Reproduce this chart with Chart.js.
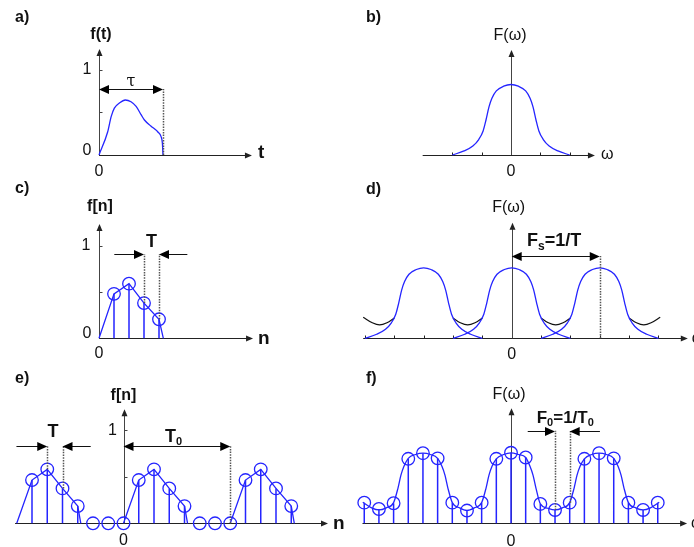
<!DOCTYPE html>
<html lang="en">
<head>
<meta charset="UTF-8" />
<title>Sampling in time and frequency</title>
<script src="https://cdn.jsdelivr.net/npm/chart.js@4.4.1/dist/chart.umd.min.js"></script>
<style>
  body { margin: 0; background: #fff; }
  #page { position: relative; width: 694px; height: 547px; overflow: hidden; }
  #page canvas { position: absolute; left: 0; top: 0; }
</style>
</head>
<body>
<div id="page">
  <canvas id="pa" width="694" height="547"></canvas>
  <canvas id="pb" width="694" height="547"></canvas>
  <canvas id="pc" width="694" height="547"></canvas>
  <canvas id="pd" width="694" height="547"></canvas>
  <canvas id="pe" width="694" height="547"></canvas>
  <canvas id="pf" width="694" height="547"></canvas>
</div>
<script>
const W = 694, H = 547
const BLUE = '#2424ff'
const INK = '#222'
const SANS = '"Liberation Sans", Arial, sans-serif'

// a) continuous pulse f(t), t in units of tau
const pulseT = [0, 0.135, 0.19, 0.24, 0.32, 0.41, 0.5, 0.58, 0.66, 0.71, 0.81, 0.92, 0.97, 0.99, 1.0]
const pulseY = [0, 0.27, 0.45, 0.55, 0.61, 0.645, 0.625, 0.57, 0.47, 0.41, 0.34, 0.27, 0.215, 0.14, 0]

// c) samples f[n]
const sampleN = [1, 2, 3, 4]
const sampleY = [0.48, 0.59, 0.38, 0.205]
const sampleLineN = [0, 1, 2, 3, 4, 4.29]
const sampleLineY = [0, 0.48, 0.59, 0.38, 0.205, 0]

// e) periodic samples, period 7
const periodicN = [-6, -5, -4, -3, -2, -1, 0, 1, 2, 3, 4, 5, 6, 7, 8, 9, 10, 11]
const periodicY = [0.465, 0.58, 0.375, 0.185, 0, 0, 0, 0.465, 0.58, 0.375, 0.185, 0, 0, 0, 0.465, 0.58, 0.375, 0.185]
const periodicLineN = [-7, -6, -5, -4, -3, -2.8, -1.4, 0, 1, 2, 3, 4, 4.2, 5.6, 7, 8, 9, 10, 11, 11.2]
const periodicLineY = [0, 0.465, 0.58, 0.375, 0.185, 0, null, 0, 0.465, 0.58, 0.375, 0.185, 0, null, 0, 0.465, 0.58, 0.375, 0.185, 0]

// b) spectrum F(w)
const specW = [-2, -1.6, -1.3, -1.1, -0.95, -0.85, -0.75, -0.65, -0.5, -0.25, 0, 0.25, 0.5, 0.65, 0.75, 0.85, 0.95, 1.1, 1.3, 1.6, 2]
const specY = [0, 0.047, 0.105, 0.18, 0.28, 0.41, 0.56, 0.66, 0.745, 0.8, 0.82, 0.8, 0.745, 0.66, 0.56, 0.41, 0.28, 0.18, 0.105, 0.047, 0]

// d) spectrum copies every Fs and their overlapping sum (black)
const copyCenters = [-3, 0, 3]
const aliasW = [-5.06, -4.75, -4.5, -4.25, -4, -3, -2, -1.75, -1.5, -1.25, -1, 0, 1, 1.25, 1.5, 1.75, 2, 3, 4, 4.25, 4.5, 4.75, 5.06]
const aliasY = [0.245, 0.18, 0.155, 0.18, 0.235, null, 0.235, 0.18, 0.155, 0.18, 0.235, null, 0.235, 0.18, 0.155, 0.18, 0.235, null, 0.235, 0.18, 0.155, 0.18, 0.245]

// f) sampled periodic spectrum
const combW = [-5, -4.5, -4, -3.5, -3, -2.5, -2, -1.5, -1, -0.5, 0, 0.5, 1, 1.5, 2, 2.5, 3, 3.5, 4, 4.5, 5]
const combY = [0.24, 0.166, 0.233, 0.75, 0.815, 0.755, 0.24, 0.148, 0.24, 0.75, 0.82, 0.765, 0.225, 0.155, 0.24, 0.75, 0.815, 0.755, 0.24, 0.155, 0.24]
const combLineW = [-5.05, -4.75, -4.5, -4.25, -4, -3.85, -3.75, -3.65, -3.5, -3.25, -3, -2.75, -2.5, -2.35, -2.25, -2.15, -2, -1.75, -1.5, -1.25, -1, -0.85, -0.75, -0.65, -0.5, -0.25, 0, 0.25, 0.5, 0.65, 0.75, 0.85, 1, 1.25, 1.5, 1.75, 2, 2.15, 2.25, 2.35, 2.5, 2.75, 3, 3.25, 3.5, 3.65, 3.75, 3.85, 4, 4.25, 4.5, 4.75, 5.05]
const combLineY = [0.245, 0.18, 0.155, 0.18, 0.24, 0.41, 0.56, 0.66, 0.755, 0.8, 0.815, 0.8, 0.755, 0.66, 0.56, 0.41, 0.24, 0.18, 0.15, 0.18, 0.24, 0.41, 0.56, 0.66, 0.75, 0.8, 0.82, 0.8, 0.765, 0.66, 0.56, 0.41, 0.225, 0.175, 0.155, 0.18, 0.24, 0.41, 0.56, 0.66, 0.75, 0.8, 0.815, 0.8, 0.755, 0.66, 0.56, 0.41, 0.24, 0.18, 0.155, 0.18, 0.245]

function xy(xs, ys) { return xs.map((x, i) => ({ x, y: ys[i] })) }

function stems(xs, ys) {
  const pts = []
  xs.forEach((x, i) => {
    if (ys[i] > 0) pts.push({ x, y: 0 }, { x, y: ys[i] }, { x, y: null })
  })
  return { data: pts, borderColor: BLUE, borderWidth: 1.5, pointRadius: 0, tension: 0 }
}

function curve(data, extra) {
  return Object.assign({ data, borderColor: BLUE, borderWidth: 1.3, pointRadius: 0, cubicInterpolationMode: 'monotone' }, extra)
}

function circles(data) {
  return { data, showLine: false, pointRadius: 6.3, pointBorderWidth: 1.3, pointBorderColor: BLUE, pointBackgroundColor: 'rgba(0,0,0,0)', borderColor: BLUE }
}

function kit(chart) {
  const ctx = chart.ctx
  const px = v => chart.scales.x.getPixelForValue(v)
  const py = v => chart.scales.y.getPixelForValue(v)
  const crisp = v => Math.round(v) + 0.5
  const seg = (x0, y0, x1, y1) => { ctx.beginPath(); ctx.moveTo(x0, y0); ctx.lineTo(x1, y1); ctx.stroke() }
  const head = (x, y, dx, dy, len, half) => {
    const bx = x - dx * len, by = y - dy * len
    ctx.beginPath()
    ctx.moveTo(x, y)
    ctx.lineTo(bx - dy * half, by + dx * half)
    ctx.lineTo(bx + dy * half, by - dx * half)
    ctx.closePath()
    ctx.fill()
  }
  return {
    ctx, px, py,
    axisX(x0, x1) {
      const y = crisp(py(0))
      ctx.strokeStyle = INK; ctx.fillStyle = INK; ctx.lineWidth = 1
      seg(px(x0), y, px(x1) - 4, y)
      head(px(x1), y, 1, 0, 7, 3)
    },
    axisY(y1) {
      const x = crisp(px(0))
      ctx.strokeStyle = '#444'; ctx.fillStyle = INK; ctx.lineWidth = 1
      seg(x, py(0), x, py(y1) + 4)
      head(x, py(y1), 0, -1, 7, 3)
    },
    ticksY(vals) {
      ctx.strokeStyle = '#444'; ctx.lineWidth = 1
      const x = crisp(px(0))
      vals.forEach(v => seg(x, crisp(py(v)), x + 3, crisp(py(v))))
    },
    ticksX(vals) {
      ctx.strokeStyle = INK; ctx.lineWidth = 1
      const y = crisp(py(0))
      vals.forEach(v => seg(crisp(px(v)), y, crisp(px(v)), y - 3))
    },
    dotted(x, y0, y1) {
      ctx.save()
      ctx.strokeStyle = '#555'; ctx.lineWidth = 1.5; ctx.setLineDash([1.5, 1.2])
      seg(crisp(px(x)), py(y0), crisp(px(x)), py(y1))
      ctx.restore()
    },
    span(x0, x1, y) {
      const yy = crisp(py(y))
      ctx.strokeStyle = '#111'; ctx.fillStyle = '#000'; ctx.lineWidth = 1
      seg(px(x0) + 4, yy, px(x1) - 4, yy)
      head(px(x0), yy, -1, 0, 10, 4.5)
      head(px(x1), yy, 1, 0, 10, 4.5)
    },
    pointer(from, to, y) {
      const yy = crisp(py(y)), d = Math.sign(to - from)
      ctx.strokeStyle = '#111'; ctx.fillStyle = '#000'; ctx.lineWidth = 1
      seg(px(from), yy, px(to) - d * 4, yy)
      head(px(to), yy, d, 0, 10, 4.5)
    },
    text(str, x, y, font, align) {
      ctx.fillStyle = '#111'; ctx.font = font
      ctx.textAlign = align || 'center'; ctx.textBaseline = 'middle'
      ctx.fillText(str, x, y)
    },
    rich(parts, x, y) {
      ctx.fillStyle = '#111'; ctx.textAlign = 'left'; ctx.textBaseline = 'alphabetic'
      parts.forEach(([s, font, dy]) => {
        ctx.font = font
        ctx.fillText(s, x, y + (dy || 0))
        x += ctx.measureText(s).width
      })
    }
  }
}

function panel(id, ox, oy, ux, uy, datasets, decor) {
  return new Chart(document.getElementById(id), {
    type: 'line',
    data: { datasets },
    options: {
      responsive: false,
      animation: false,
      devicePixelRatio: 1,
      events: [],
      layout: { padding: 0, autoPadding: false },
      plugins: { legend: { display: false }, tooltip: { enabled: false } },
      scales: {
        x: { type: 'linear', display: false, min: -ox / ux, max: (W - ox) / ux },
        y: { type: 'linear', display: false, min: -(H - oy) / uy, max: oy / uy }
      }
    },
    plugins: [{
      id: 'decor',
      beforeDatasetsDraw(chart) { const k = kit(chart); k.ctx.save(); decor.axes(k); k.ctx.restore() },
      afterDatasetsDraw(chart) { const k = kit(chart); k.ctx.save(); decor.notes(k); k.ctx.restore() }
    }]
  })
}

const B16 = 'bold 16px ' + SANS
const B18 = 'bold 18px ' + SANS
const B19 = 'bold 19px ' + SANS
const R16 = '16px ' + SANS

// a) f(t)
panel('pa', 99, 155, 64, 85.3, [curve(xy(pulseT, pulseY))], {
  axes(k) {
    k.axisX(0, 2.39); k.axisY(1.243); k.ticksY([0.5, 1])
  },
  notes(k) {
    const { px, py } = k
    k.text('a)', 15, 17.5, B16, 'left')
    k.text('f(t)', px(0) + 2, py(1.243) - 14, B16)
    k.text('1', px(0) - 12, py(1), R16)
    k.text('0', px(0) - 12, py(0) - 4, R16)
    k.text('0', px(0), py(0) + 17, R16)
    k.text('t', px(2.39) + 6, py(0) - 2, B19, 'left')
    k.dotted(1, 0, 0.774)
    k.span(0, 1, 0.774)
    k.text('τ', px(0.5), py(0.774) - 7, '16px "DejaVu Serif", serif')
  }
})

// b) F(w)
panel('pb', 511, 155, 29.35, 86, [curve(xy(specW, specY))], {
  axes(k) {
    k.axisX(-3.01, 2.86); k.axisY(1.22); k.ticksX([-2, -1, 1, 2])
  },
  notes(k) {
    const { px, py } = k
    k.text('b)', 366, 17.5, B16, 'left')
    k.text('F(ω)', px(0) - 1, py(1.22) - 14, R16)
    k.text('0', px(0), py(0) + 17, R16)
    k.text('ω', px(2.86) + 6, py(0), R16, 'left')
  }
})

// c) f[n]
panel('pc', 99, 338.3, 15, 92.6, [
  circles(xy(sampleN, sampleY)),
  stems(sampleN, sampleY),
  curve(xy(sampleLineN, sampleLineY), { cubicInterpolationMode: 'default', tension: 0 })
], {
  axes(k) {
    k.axisX(0, 10.27); k.axisY(1.234); k.ticksY([0.5, 1])
  },
  notes(k) {
    const { px, py } = k
    k.text('c)', 15, 189, B16, 'left')
    k.text('f[n]', px(0) + 1, py(1.234) - 17, B16)
    k.text('1', px(0) - 13, py(1), R16)
    k.text('0', px(0) - 12, py(0) - 5, R16)
    k.text('0', px(0), py(0) + 15, R16)
    k.text('n', px(10.27) + 5, py(0), B19, 'left')
    k.dotted(3, sampleY[2], 0.91)
    k.dotted(4, sampleY[3], 0.91)
    k.pointer(1.02, 3, 0.91)
    k.pointer(5.89, 4, 0.91)
    k.text('T', px(3.5), py(0.91) - 12, B18)
  }
})

// d) periodic spectrum of the sampled signal
panel('pd', 511.7, 338.3, 29.35, 86, [
  ...copyCenters.map(c => curve(xy(specW.map(w => w + c), specY))),
  curve(xy(aliasW, aliasY), { borderColor: '#111', borderWidth: 1.2 })
], {
  axes(k) {
    k.axisX(-5.06, 6.0); k.axisY(1.344); k.ticksX([-5, -4, -3, -2, -1, 1, 2, 3, 4, 5])
  },
  notes(k) {
    const { px, py } = k
    k.text('d)', 366, 190, B16, 'left')
    k.text('F(ω)', px(0) - 3, py(1.344) - 15, R16)
    k.text('0', px(0), py(0) + 16, R16)
    k.text('ω', px(6.0) + 4, py(0), R16, 'left')
    k.dotted(3, 0, 0.957)
    k.span(0, 3, 0.957)
    k.rich([['F', B18], ['s', 'bold 12px ' + SANS, 4], ['=1/T', B18]], px(0.52), py(0.957) - 10)
  }
})

// e) periodic samples
panel('pe', 123.5, 523.3, 15.25, 93, [
  circles(xy(periodicN, periodicY)),
  stems(periodicN, periodicY),
  curve(xy(periodicLineN, periodicLineY), { cubicInterpolationMode: 'default', tension: 0 })
], {
  axes(k) {
    k.axisX(-7.11, 13.41); k.axisY(1.226); k.ticksY([0.5, 1])
  },
  notes(k) {
    const { px, py } = k
    k.text('e)', 15, 378.5, B16, 'left')
    k.text('f[n]', px(0), py(1.226) - 14, B16)
    k.text('1', px(0) - 11, py(1), R16)
    k.text('0', px(0), py(0) + 17, R16)
    k.text('n', px(13.41) + 5, py(0), B19, 'left')
    k.dotted(7, 0, 0.831)
    k.span(0, 7, 0.831)
    k.rich([['T', B18], ['0', 'bold 11px ' + SANS, 3]], px(2.72), py(0.831) - 4)
    k.dotted(-5, periodicY[1], 0.831)
    k.dotted(-4, periodicY[2], 0.831)
    k.pointer(-7.02, -5, 0.831)
    k.pointer(-2.15, -4, 0.831)
    k.text('T', px(-4.5) - 2, py(0.831) - 14, B18)
  }
})

// f) sampled periodic spectrum
panel('pf', 511, 523.3, 29.35, 86, [
  circles(xy(combW, combY)),
  stems(combW, combY),
  curve(xy(combLineW, combLineY))
], {
  axes(k) {
    k.axisX(-5.06, 6.0); k.axisY(1.337)
  },
  notes(k) {
    const { px, py } = k
    k.text('f)', 366, 378.5, B16, 'left')
    k.text('F(ω)', px(0) - 2, py(1.337) - 14, R16)
    k.text('0', px(0), py(0) + 18, R16)
    k.text('ω', px(6.0) + 4, py(0), R16, 'left')
    k.dotted(1.5, combY[13], 1.077)
    k.dotted(2, combY[14], 1.077)
    k.pointer(0.57, 1.5, 1.077)
    k.pointer(3.03, 2, 1.077)
    k.rich([['F', 'bold 17px ' + SANS], ['0', 'bold 11px ' + SANS, 3], ['=1/T', 'bold 17px ' + SANS], ['0', 'bold 11px ' + SANS, 3]], px(0.876), py(1.077) - 8)
  }
})
</script>
</body>
</html>
